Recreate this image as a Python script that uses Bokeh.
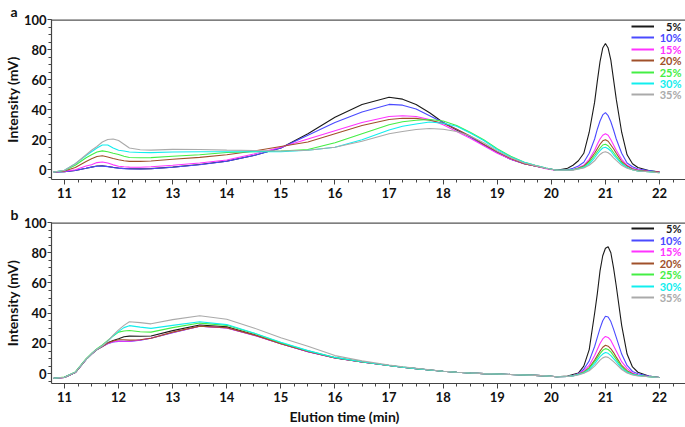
from bokeh.plotting import figure
from bokeh.models import (Range1d, Label, Legend, LegendItem, SingleIntervalTicker,
                          Span, Title)
from bokeh.layouts import column
from bokeh.embed import file_html
from bokeh.resources import INLINE

# ---------------- data (elution time in min, intensity in mV) ----------------
time_min = [10.8, 11.0, 11.2, 11.4, 11.5, 11.6, 11.7, 11.8, 11.9, 12.0,
            12.1, 12.2, 12.4, 12.6, 13.0, 13.5, 14.0, 14.5, 15.0, 15.5,
            16.0, 16.5, 17.0, 17.25, 17.5, 17.75, 18.0, 18.25, 18.5, 18.75,
            19.0, 19.25, 19.5, 19.7, 19.9, 20.1, 20.3, 20.4, 20.5, 20.6,
            20.7, 20.8, 20.85, 20.9, 20.95, 21.0, 21.05, 21.1, 21.15, 21.2,
            21.3, 21.4, 21.5, 21.6, 21.8, 22.0]

labels = ["5%", "10%", "15%", "20%", "25%", "30%", "35%"]
colors = ["#1a1a1a", "#4a4aff", "#ff33ff", "#a0502a", "#44ee44", "#11eeee", "#aaaaaa"]

a_5 = [-1.5, -1.2, -0.5, 1.0, 1.8, 2.5, 2.6, 2.2, 1.6, 1.2,
       0.9, 0.7, 0.6, 0.8, 1.8, 3.5, 5.8, 9.5, 14.5, 24.0,
       35.0, 43.5, 48.3, 47.0, 43.5, 38.0, 31.5, 26.5, 22.0, 16.5,
       11.5, 7.0, 4.0, 2.5, 1.0, -0.3, 1.0, 3.0, 6.0, 11.0,
       25.0, 45.0, 59.0, 72.0, 81.0, 84.0, 81.0, 73.0, 60.0, 47.0,
       25.0, 10.0, 4.0, 1.5, -0.5, -1.5]
a_10 = [-1.5, -1.2, -0.5, 1.0, 1.8, 2.4, 2.5, 2.1, 1.5, 1.1,
        0.8, 0.6, 0.5, 0.7, 1.7, 3.4, 5.7, 9.5, 14.5, 23.0,
        31.5, 38.5, 43.5, 43.0, 40.5, 36.0, 31.5, 27.0, 22.0, 16.5,
        11.5, 7.0, 4.0, 2.5, 1.0, -0.3, 0.0, 1.0, 2.5, 5.0,
        11.0, 20.5, 27.0, 32.5, 36.5, 38.0, 36.0, 32.0, 26.5, 20.5,
        11.0, 4.5, 2.0, 0.5, -0.5, -1.5]
a_15 = [-1.5, -1.0, 0.0, 2.5, 3.4, 4.8, 5.2, 4.5, 3.3, 2.4,
        2.0, 1.8, 1.7, 2.0, 3.0, 4.5, 6.5, 10.5, 15.0, 20.5,
        26.0, 31.5, 35.5, 36.0, 35.5, 33.5, 30.0, 25.5, 21.0, 16.0,
        11.0, 7.0, 4.0, 2.5, 0.8, -0.5, -0.5, 0.0, 1.5, 3.0,
        7.0, 13.0, 17.0, 20.5, 23.0, 24.0, 23.0, 20.0, 16.5, 13.0,
        7.0, 3.0, 1.0, 0.0, -1.0, -1.5]
a_20 = [-1.5, -0.8, 1.5, 5.5, 7.3, 8.8, 9.3, 8.5, 7.5, 6.7,
        6.0, 5.6, 5.6, 5.9, 7.0, 8.3, 10.0, 12.5, 15.5, 18.5,
        24.0, 29.5, 33.5, 34.3, 34.2, 33.0, 31.0, 27.0, 22.5, 17.0,
        12.0, 7.5, 4.0, 2.5, 1.0, -0.3, -0.3, 0.0, 1.0, 2.5,
        6.0, 11.0, 14.0, 17.0, 19.3, 20.0, 19.0, 16.5, 14.0, 11.0,
        5.5, 2.5, 0.5, -0.3, -1.0, -1.5]
a_25 = [-1.5, -0.5, 3.0, 8.0, 10.0, 11.8, 12.6, 12.0, 11.0, 10.2,
        9.0, 8.2, 8.0, 8.1, 9.0, 10.0, 11.5, 12.0, 12.5, 13.5,
        18.0, 24.0, 30.0, 32.0, 33.0, 33.5, 32.5, 29.5, 25.0, 20.0,
        14.0, 9.0, 5.0, 3.0, 1.2, -0.3, -0.3, 0.0, 1.0, 2.0,
        5.0, 9.5, 12.0, 14.5, 16.5, 17.0, 16.0, 14.0, 11.5, 9.0,
        4.5, 1.5, 0.0, -0.8, -1.3, -2.0]
a_30 = [-1.5, -0.3, 4.0, 9.5, 12.0, 14.5, 16.5, 16.5, 14.5, 13.0,
        12.5, 11.8, 11.5, 11.4, 11.8, 12.0, 12.0, 12.0, 12.0, 13.0,
        15.0, 20.0, 26.5, 29.0, 30.5, 31.8, 31.0, 29.0, 24.5, 19.5,
        13.5, 8.5, 5.0, 3.0, 1.2, -0.3, -0.3, 0.0, 0.5, 1.5,
        4.0, 8.0, 10.5, 12.8, 14.5, 15.0, 14.0, 12.5, 10.0, 8.0,
        4.0, 1.5, 0.0, -0.8, -1.3, -2.0]
a_35 = [-1.5, -0.3, 4.0, 10.0, 13.0, 15.5, 18.5, 20.2, 20.5, 19.5,
        17.0, 14.5, 13.3, 13.1, 13.6, 13.5, 13.1, 12.8, 12.5, 13.0,
        15.0, 19.0, 24.0, 25.5, 26.8, 27.5, 27.0, 25.5, 22.5, 18.0,
        12.5, 8.0, 4.5, 2.8, 1.0, -0.3, -0.3, -0.2, 0.5, 1.2,
        3.0, 6.0, 8.3, 10.2, 11.5, 12.0, 11.3, 10.0, 8.0, 6.3,
        3.0, 1.0, 0.0, -0.8, -1.3, -2.0]

b_5 = [-3.0, -2.4, 0.8, 9.5, 13.0, 16.0, 18.0, 20.5, 22.0, 23.1,
       24.5, 24.9, 24.8, 25.0, 28.5, 32.2, 31.0, 26.0, 20.0, 14.8,
       10.6, 7.8, 5.4, 4.3, 3.4, 2.5, 1.6, 1.0, 0.5, 0.1,
       -0.2, -0.5, -0.8, -1.1, -1.4, -2.0, -1.5, -0.5, 0.5, 5.0,
       16.0, 40.0, 53.0, 68.0, 78.0, 83.0, 84.0, 80.0, 70.0, 58.0,
       32.0, 13.0, 4.5, 1.0, -1.5, -2.5]
b_10 = [-3.0, -2.4, 0.8, 9.5, 13.0, 16.0, 18.0, 19.8, 21.0, 21.4,
        21.4, 21.4, 22.2, 23.5, 27.2, 31.4, 30.3, 25.5, 19.8, 14.6,
        10.5, 7.8, 5.4, 4.3, 3.4, 2.5, 1.6, 1.0, 0.5, 0.1,
        -0.2, -0.5, -0.8, -1.1, -1.4, -2.0, -1.8, -1.2, 0.0, 3.0,
        8.5, 18.0, 24.0, 30.0, 35.0, 38.0, 37.5, 34.5, 29.5, 24.0,
        13.0, 5.5, 1.5, 0.0, -1.5, -2.5]
b_15 = [-3.0, -2.4, 0.8, 9.5, 13.0, 16.0, 18.0, 20.0, 21.2, 21.6,
        21.5, 21.5, 22.3, 23.6, 27.3, 31.4, 30.3, 25.5, 19.8, 14.6,
        10.5, 7.8, 5.4, 4.3, 3.4, 2.5, 1.6, 1.0, 0.5, 0.1,
        -0.2, -0.5, -0.8, -1.1, -1.4, -2.0, -1.8, -1.2, 0.0, 2.0,
        5.5, 12.0, 16.0, 20.0, 23.0, 24.7, 24.0, 22.0, 18.5, 15.0,
        8.0, 3.5, 0.5, -0.8, -1.8, -2.5]
b_20 = [-3.0, -2.4, 0.8, 9.5, 13.0, 16.0, 18.0, 20.3, 21.7, 22.5,
        22.5, 22.2, 22.5, 23.5, 27.5, 31.5, 30.5, 25.7, 19.9, 14.7,
        10.5, 7.8, 5.4, 4.3, 3.4, 2.5, 1.6, 1.0, 0.5, 0.1,
        -0.2, -0.5, -0.8, -1.1, -1.4, -2.0, -1.8, -1.3, -0.3, 1.2,
        4.0, 9.0, 12.0, 15.0, 17.5, 18.8, 18.2, 16.5, 14.0, 11.0,
        5.5, 2.0, 0.0, -1.0, -1.8, -2.5]
b_25 = [-3.0, -2.2, 1.2, 10.0, 13.5, 16.5, 19.0, 22.0, 25.0, 27.5,
        28.3, 28.6, 27.8, 27.5, 30.5, 33.5, 32.0, 26.8, 20.5, 15.2,
        10.8, 7.9, 5.5, 4.4, 3.4, 2.5, 1.6, 1.0, 0.5, 0.1,
        -0.2, -0.5, -0.8, -1.1, -1.4, -2.0, -1.8, -1.3, -0.3, 1.0,
        3.5, 8.0, 10.5, 13.3, 15.5, 16.6, 16.0, 14.5, 12.0, 9.5,
        4.5, 1.5, -0.3, -1.0, -2.0, -2.5]
b_30 = [-3.0, -2.3, 1.0, 9.7, 13.2, 16.2, 18.5, 21.5, 25.0, 28.0,
        30.5, 31.8, 30.8, 30.0, 32.0, 34.4, 32.5, 27.0, 20.8, 15.3,
        10.8, 7.9, 5.5, 4.4, 3.4, 2.5, 1.6, 1.0, 0.5, 0.1,
        -0.2, -0.5, -0.8, -1.1, -1.4, -2.0, -1.8, -1.4, -0.5, 0.5,
        2.8, 6.5, 9.0, 11.3, 13.0, 14.0, 13.5, 12.0, 10.0, 8.0,
        3.5, 1.0, -0.5, -1.2, -2.0, -2.5]
b_35 = [-3.0, -2.3, 1.0, 9.7, 13.2, 16.2, 18.5, 21.5, 25.5, 29.0,
        32.0, 34.4, 33.8, 33.0, 35.8, 38.3, 36.0, 30.3, 23.8, 18.2,
        12.0, 8.5, 5.8, 4.6, 3.6, 2.6, 1.7, 1.0, 0.5, 0.1,
        -0.2, -0.5, -0.8, -1.1, -1.4, -2.0, -1.8, -1.5, -0.8, 0.3,
        2.0, 5.0, 7.0, 9.0, 10.5, 11.2, 10.8, 9.5, 8.0, 6.3,
        2.8, 0.5, -0.8, -1.5, -2.0, -2.5]

series_a = [a_5, a_10, a_15, a_20, a_25, a_30, a_35]
series_b = [b_5, b_10, b_15, b_20, b_25, b_30, b_35]

FONT = "Lato"
W = 685
NAN = float("nan")


def make_panel(series, height, top, bottom, frame_h, panel_letter,
               leg_first, leg_step, xtitle=False):
    p = figure(width=W, height=height, x_range=Range1d(10.76, 22.48),
               y_range=Range1d(-6.45, 100), output_backend="svg",
               toolbar_location=None, min_border_left=50, min_border_right=0,
               min_border_top=top, min_border_bottom=bottom)
    p.outline_line_color = None
    p.border_fill_alpha = 0
    p.xgrid.visible = False
    p.ygrid.visible = False

    xa = p.xaxis[0]
    ya = p.yaxis[0]
    xa.ticker = SingleIntervalTicker(interval=1, num_minor_ticks=4)
    ya.ticker = SingleIntervalTicker(interval=20, num_minor_ticks=4)
    for ax in (xa, ya):
        ax.axis_line_color = "#444444"
        ax.axis_line_width = 1.2
        ax.major_tick_line_color = "#444444"
        ax.minor_tick_line_color = "#444444"
        ax.major_tick_out = 5
        ax.major_tick_in = 0
        ax.minor_tick_out = 3
        ax.minor_tick_in = 0
        ax.major_label_text_font = FONT
        ax.major_label_text_font_style = "bold"
        ax.major_label_text_font_size = "13px"
        ax.major_label_text_color = "#111111"
    xa.major_label_standoff = 3
    ya.major_tick_out = 4
    ya.major_label_standoff = 1
    ya.axis_label = "Intensity (mV)"
    ya.axis_label_standoff = 0
    ya.axis_label_text_font = FONT
    ya.axis_label_text_font_style = "bold"
    ya.axis_label_text_font_size = "14px"
    ya.axis_label_text_color = "#111111"

    # top frame line
    p.add_layout(Span(location=100, dimension="width", line_color="#555555",
                      line_width=2.4))

    for lab, col, ys in zip(labels, colors, series):
        p.line(time_min, ys, line_color=col, line_width=1.1)

    # legend: one short line per series + right-aligned coloured label
    for i, (lab, col) in enumerate(zip(labels, colors)):
        d = leg_first + leg_step * i
        proxy = p.line([NAN], [NAN], line_color=col, line_width=2)
        leg = Legend(items=[LegendItem(label=lab, renderers=[proxy])],
                     location=(580, frame_h - d - 2), glyph_width=23,
                     glyph_height=4, label_height=4, label_width=0,
                     label_standoff=0, label_text_font_size="1px",
                     label_text_alpha=0, padding=0, margin=0, spacing=0,
                     border_line_color=None, background_fill_alpha=0)
        p.add_layout(leg)
        p.add_layout(Label(x=630, y=frame_h - d, x_units="screen", y_units="screen",
                           text=lab, text_align="right", text_baseline="middle",
                           text_color=col, text_font=FONT, text_font_style="bold",
                           text_font_size="11px"))

    # panel letter
    p.add_layout(Title(text=panel_letter, align="left", offset=-41, standoff=0,
                       text_font=FONT, text_font_style="bold",
                       text_font_size="14px", text_color="#111111"), "above")
    if xtitle:
        p.add_layout(Title(text="Elution time (min)", align="left", offset=238,
                           standoff=3, text_font=FONT, text_font_style="bold",
                           text_font_size="14px", text_color="#111111"), "below")
    return p


# panel a: 18 top + 161 frame + 24 bottom; panel b: 18 top + 162 frame + 44 bottom
pa = make_panel(series_a, 203, 18, 24, 161, "a", 8, 11.4)
pb = make_panel(series_b, 224, 18, 44, 162, "b", 7, 11.5, xtitle=True)

layout = column(pa, pb, spacing=0)
open("out.html", "w").write(file_html(layout, INLINE))
